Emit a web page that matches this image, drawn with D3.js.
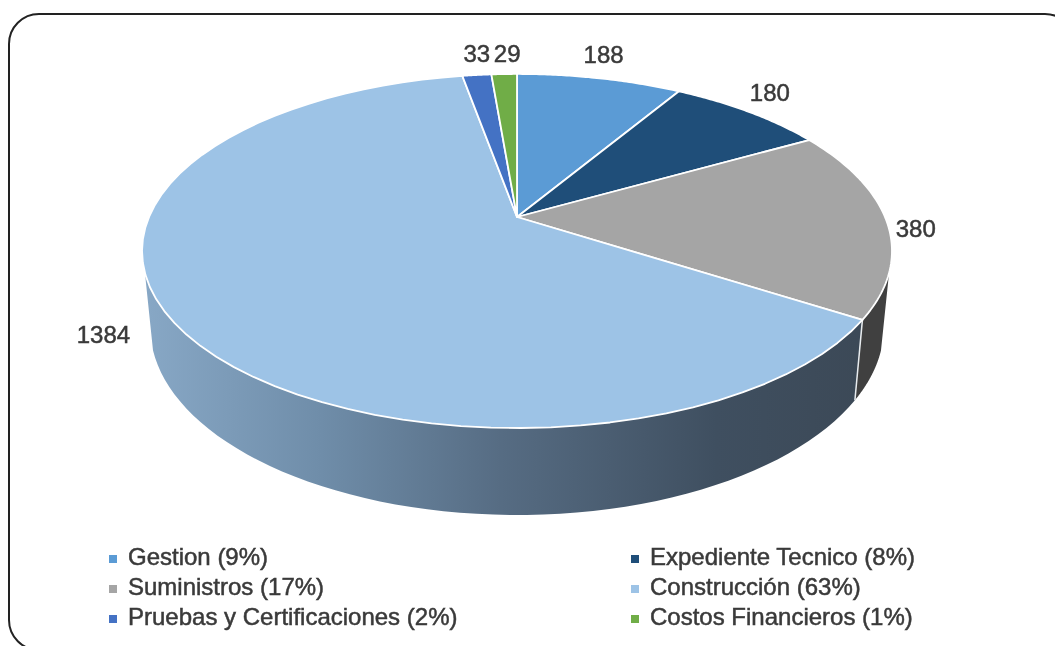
<!DOCTYPE html>
<html>
<head>
<meta charset="utf-8">
<script src="https://cdn.jsdelivr.net/npm/d3@7"></script>
<style>
  html, body { margin: 0; padding: 0; background: #fff; overflow: hidden; }
  svg { display: block; filter: blur(0.55px); }
  text { font-family: "Liberation Sans", sans-serif; fill: #3a3a3a; stroke: #3a3a3a; stroke-width: 0.5px; }
</style>
</head>
<body>
<div id="chart"></div>
<script>
const categories = ["Gestion", "Expediente Tecnico", "Suministros", "Construcción", "Pruebas y Certificaciones", "Costos Financieros"];
const values = [188, 180, 380, 1384, 33, 29];
const topColors = ["#5b9bd5", "#1f4e79", "#a5a5a5", "#9dc3e6", "#4472c4", "#70ad47"];
const wallColors = ["#3b6e9c", "#163754", "#404040", "url(#wallGrad)", "#2f5597", "#4e7a31"];

const width = 1055;
const height = 646;
const total = d3.sum(values);

// perspective of the disc: top face and bottom face
const cx = 517;
const tilt = 0.192;
const topFace = { a: 368, b: 170.5, y0: 217 };
const bottomFace = { a: 360, b: 181, y0: 291 };
// where the side wall disappears behind the disc
const wallFrom = (108 * Math.PI) / 180;
const wallTo = (252 * Math.PI) / 180;

// label offset from the rim point of the slice
const labelOffset = [[4, -24], [21, -19], [29, 7], [-71, 12], [0, -21], [3, -20]];

const project = (face, angle) => {
  const u = Math.sin(angle);
  const v = -Math.cos(angle);
  const w = 1 - tilt * v;
  return [cx + (face.a * u) / w, face.y0 + (face.b * v) / w];
};

const sample = (a0, a1) => d3.range(0, 61).map((i) => a0 + ((a1 - a0) * i) / 60);

const svg = d3.select("#chart").append("svg").attr("width", width).attr("height", height);

const grad = svg
  .append("defs")
  .append("linearGradient")
  .attr("id", "wallGrad")
  .attr("gradientUnits", "userSpaceOnUse")
  .attr("x1", 142)
  .attr("x2", 860)
  .attr("y1", 0)
  .attr("y2", 0);
[
  [0, "#88a8c6"],
  [0.25, "#6f8da9"],
  [0.5, "#566c83"],
  [0.8, "#3f4f60"],
  [1, "#3c4957"],
].forEach((s) => grad.append("stop").attr("offset", s[0]).attr("stop-color", s[1]));

// frame
svg
  .append("rect")
  .attr("x", 9)
  .attr("y", 14)
  .attr("width", 1066)
  .attr("height", 636)
  .attr("rx", 30)
  .attr("ry", 30)
  .attr("fill", "#fff")
  .attr("stroke", "#222")
  .attr("stroke-width", 2);

const slices = d3
  .pie()
  .sort(null)
  .value((d) => d)(values);

const line = d3.line();

// side walls
const walls = svg.append("g");
slices.forEach((s, i) => {
  const a0 = Math.max(s.startAngle, wallFrom);
  const a1 = Math.min(s.endAngle, wallTo);
  if (a1 <= a0) return;
  const angles = sample(a0, a1);
  const pts = angles.map((a) => project(topFace, a)).concat(angles.slice().reverse().map((a) => project(bottomFace, a)));
  walls.append("path").attr("d", line(pts) + "Z").attr("fill", wallColors[i]);
});
// white seam between the two visible walls
slices.forEach((s) => {
  if (s.startAngle > wallFrom && s.startAngle < wallTo) {
    walls
      .append("path")
      .attr("d", line([project(topFace, s.startAngle), project(bottomFace, s.startAngle)]))
      .attr("stroke", "#e8ecef")
      .attr("stroke-width", 1.5);
  }
});

// top face
svg
  .append("g")
  .selectAll("path")
  .data(slices)
  .join("path")
  .attr("d", (s) => line([[cx, topFace.y0]].concat(sample(s.startAngle, s.endAngle).map((a) => project(topFace, a)))) + "Z")
  .attr("fill", (s, i) => topColors[i])
  .attr("stroke", "#fff")
  .attr("stroke-width", 1.8)
  .attr("stroke-linejoin", "round");

// value labels
svg
  .append("g")
  .selectAll("text")
  .data(slices)
  .join("text")
  .attr("x", (s, i) => project(topFace, (s.startAngle + s.endAngle) / 2)[0] + labelOffset[i][0])
  .attr("y", (s, i) => project(topFace, (s.startAngle + s.endAngle) / 2)[1] + labelOffset[i][1])
  .attr("text-anchor", "middle")
  .attr("dy", "0.35em")
  .attr("font-size", 24)
  .text((s) => s.value);

// legend
const legendX = d3.scaleOrdinal().domain([0, 1]).range([109, 631]);
const legendY = d3.scalePoint().domain([0, 1, 2]).range([558, 618]);
const legend = svg
  .append("g")
  .selectAll("g")
  .data(categories)
  .join("g")
  .attr("transform", (d, i) => `translate(${legendX(i % 2)},${legendY(Math.floor(i / 2))})`);
legend
  .append("rect")
  .attr("x", 0)
  .attr("y", -3)
  .attr("width", 8)
  .attr("height", 8)
  .attr("fill", (d, i) => topColors[i]);
legend
  .append("text")
  .attr("x", 19)
  .attr("y", -1)
  .attr("dy", "0.35em")
  .attr("font-size", 24)
  .text((d, i) => `${d} (${Math.round((values[i] / total) * 100)}%)`);
</script>
</body>
</html>
